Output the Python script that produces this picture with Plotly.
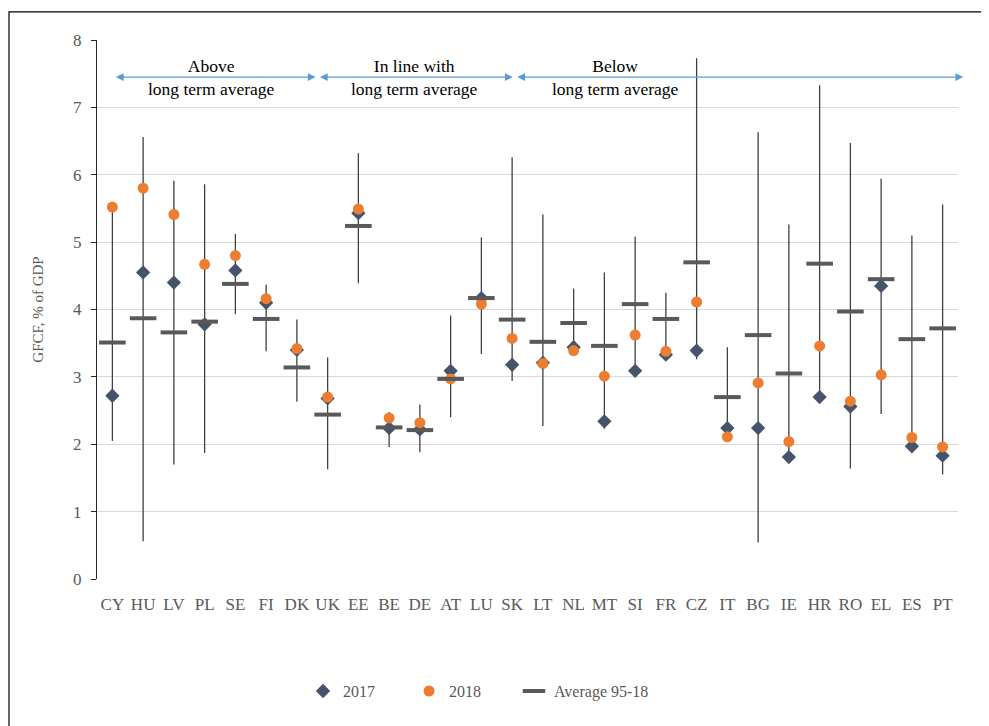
import plotly.graph_objects as go

countries = ["CY", "HU", "LV", "PL", "SE", "FI", "DK", "UK", "EE", "BE", "DE", "AT", "LU", "SK",
             "LT", "NL", "MT", "SI", "FR", "CZ", "IT", "BG", "IE", "HR", "RO", "EL", "ES", "PT"]
v2017 = [2.72, 4.55, 4.40, 3.78, 4.58, 4.10, 3.40, 2.68, 5.43, 2.24, 2.22, 3.09, 4.17, 3.18,
         3.21, 3.44, 2.34, 3.09, 3.33, 3.39, 2.24, 2.24, 1.81, 2.70, 2.56, 4.35, 1.97, 1.83]
v2018 = [5.52, 5.80, 5.41, 4.67, 4.80, 4.16, 3.42, 2.70, 5.49, 2.39, 2.32, 2.97, 4.08, 3.57,
         3.20, 3.39, 3.01, 3.62, 3.38, 4.11, 2.11, 2.91, 2.04, 3.46, 2.64, 3.03, 2.10, 1.96]
avg9518 = [3.51, 3.87, 3.66, 3.82, 4.38, 3.86, 3.14, 2.44, 5.24, 2.25, 2.21, 2.97, 4.17, 3.85,
           3.52, 3.80, 3.46, 4.08, 3.86, 4.70, 2.70, 3.62, 3.05, 4.68, 3.97, 4.45, 3.56, 3.72]
max9518 = [5.50, 6.56, 5.91, 5.86, 5.12, 4.37, 3.85, 3.29, 6.32, 2.48, 2.59, 3.91, 5.07, 6.26,
           5.41, 4.31, 4.55, 5.08, 4.25, 7.73, 3.44, 6.63, 5.26, 7.33, 6.47, 5.94, 5.10, 5.56]
min9518 = [2.05, 0.56, 1.70, 1.87, 3.93, 3.38, 2.63, 1.63, 4.39, 1.96, 1.88, 2.40, 3.34, 2.94,
           2.27, 3.39, 2.23, 3.07, 3.32, 3.26, 2.10, 0.54, 1.80, 2.69, 1.64, 2.45, 1.96, 1.55]

groups = ["Above<br>long term average", "In line with<br>long term average", "Below<br>long term average"]
group_spans = [(0.065, 6.61), (6.70, 13.02), (13.12, 27.67)]
group_text_x = [3.21, 9.84, 16.35]
group_y = 7.45

FONT = "Liberation Serif"
GREY = "#595959"

fig = go.Figure()

# range lines (min-max 95-18)
fig.add_trace(go.Scatter(
    x=countries, y=avg9518, mode="markers", showlegend=False, hoverinfo="skip",
    marker=dict(size=1, opacity=0),
    error_y=dict(type="data", symmetric=False,
                 array=[mx - a for mx, a in zip(max9518, avg9518)],
                 arrayminus=[a - mn for mn, a in zip(min9518, avg9518)],
                 width=0, thickness=1.3, color="#404040"),
))
fig.add_trace(go.Scatter(
    x=countries, y=v2017, mode="markers", name="2017", legend="legend",
    marker=dict(symbol="diamond", size=11, color="#44546A"),
))
fig.add_trace(go.Scatter(
    x=countries, y=v2018, mode="markers", name="2018", legend="legend2",
    marker=dict(symbol="circle", size=11, color="#ED7D31"),
))
fig.add_trace(go.Scatter(
    x=countries, y=avg9518, mode="markers", name="Average 95-18", legend="legend3",
    marker=dict(symbol="line-ew", size=19, color=GREY, line=dict(width=4, color=GREY)),
))

for (x0, x1), tx, txt in zip(group_spans, group_text_x, groups):
    fig.add_annotation(
        x=x1, y=group_y, ax=x0, ay=group_y, xref="x", yref="y", axref="x", ayref="y",
        text="", showarrow=True, arrowhead=2, startarrowhead=2, arrowside="end+start",
        arrowsize=1.3, startarrowsize=1.3, arrowwidth=1.2, arrowcolor="#5B9BD5",
        standoff=0, startstandoff=0,
    )
    fig.add_annotation(
        x=tx, y=group_y, xref="x", yref="y", text=txt, showarrow=False,
        font=dict(family=FONT, size=17.5, color="#000000"), align="center",
    )

# outer frame
fig.add_shape(type="rect", xref="paper", yref="paper", x0=-0.1022, x1=1.06, y0=-0.30, y1=1.052,
              line=dict(color="#000000", width=1.2), fillcolor="rgba(0,0,0,0)", layer="below")

leg_common = dict(orientation="h", y=-0.208, xanchor="left", yanchor="middle",
                  font=dict(family=FONT, size=16, color=GREY), itemwidth=30,
                  bgcolor="rgba(0,0,0,0)")

fig.update_layout(
    width=981, height=718,
    margin=dict(l=89, r=31, t=32, b=147),
    paper_bgcolor="white", plot_bgcolor="white",
    font=dict(family=FONT, size=15, color=GREY),
    showlegend=True,
    legend=dict(x=0.2393, **leg_common),
    legend2=dict(x=0.3624, **leg_common),
    legend3=dict(x=0.4843, **leg_common),
    xaxis=dict(type="category", range=[-0.5, 27.5], showgrid=False, showline=False,
               ticks="", tickfont=dict(family=FONT, size=17, color=GREY), ticklabelstandoff=13),
    yaxis=dict(range=[0, 8], dtick=1, showgrid=True, gridcolor="#D9D9D9", gridwidth=1,
               showline=True, linecolor="#262626", linewidth=1.2, ticks="outside", ticklen=5,
               tickcolor="#262626", tickfont=dict(family=FONT, size=17, color=GREY),
               ticklabelstandoff=6, zeroline=False,
               title=dict(text="GFCF, % of GDP", font=dict(family=FONT, size=15, color=GREY),
                          standoff=25)),
)

fig.write_html("out.html")
